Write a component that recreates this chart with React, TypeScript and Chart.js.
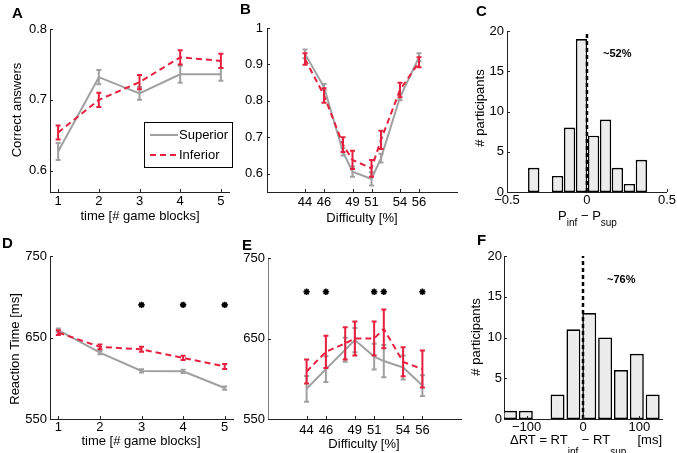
import React, { useEffect, useRef } from 'react';
import { Chart, registerables } from 'chart.js';

Chart.register(...registerables);

const W = 677;
const H = 453;
const FONT = '"Liberation Sans", Arial, Helvetica, sans-serif';
const GRAY = 'rgb(160,160,160)';
const RED = 'rgb(230,32,62)';
const AXIS = '#222';

// ---------- Panel A: correct answers over time ----------
const timeBlocks = [1, 2, 3, 4, 5];
const timeTicks = [1, 2, 3, 4, 5];
const accSuperior = [0.627, 0.732, 0.709, 0.736, 0.736];
const accSuperiorErr = [0.012, 0.01, 0.009, 0.012, 0.009];
const accInferior = [0.654, 0.7, 0.725, 0.76, 0.755];
const accInferiorErr = [0.01, 0.01, 0.01, 0.01, 0.01];
const accTicks = [0.6, 0.7, 0.8];

// ---------- Panel B: correct answers by difficulty ----------
const difficulty = [44, 46, 48, 49, 51, 52, 54, 56];
const difficultyTicks = [44, 46, 49, 51, 54, 56];
const diffAccSuperior = [0.929, 0.838, 0.66, 0.606, 0.586, 0.643, 0.81, 0.92];
const diffAccSuperiorErr = [0.012, 0.008, 0.01, 0.014, 0.018, 0.012, 0.008, 0.011];
const diffAccInferior = [0.915, 0.815, 0.68, 0.638, 0.615, 0.693, 0.83, 0.906];
const diffAccInferiorErr = [0.016, 0.02, 0.02, 0.025, 0.023, 0.025, 0.02, 0.014];
const diffAccTicks = [0.6, 0.7, 0.8, 0.9, 1];

// ---------- Panel C: histogram of P_inf - P_sup ----------
const pDiffBins = [-0.333, -0.258, -0.184, -0.109, -0.034, 0.041, 0.116, 0.19, 0.265, 0.34];
const pDiffCounts = [3, 0, 2, 8, 19, 7, 9, 3, 1, 4];
const pDiffTicks = [-0.5, 0, 0.5];
const countTicks = [0, 5, 10, 15, 20];
const pDiffShare = '~52%';

// ---------- Panel D: reaction time over time ----------
const rtSuperior = [659, 631.5, 609, 608.5, 588];
const rtSuperiorErr = [2, 2, 2, 2, 2];
const rtInferior = [656, 638.5, 635.5, 625, 614.5];
const rtInferiorErr = [3, 3, 3, 2.5, 3];
const rtTicks = [550, 650, 750];
const rtSigBlocks = [3, 4, 5];
const rtSigLevel = [690, 690, 690];

// ---------- Panel E: reaction time by difficulty ----------
const diffRtSuperior = [587.5, 612, 636, 648, 627.5, 622, 614, 591.5];
const diffRtSuperiorErr = [16, 16, 15, 15, 16, 20, 15, 13];
const diffRtInferior = [609, 633.5, 644, 650, 650, 662, 621, 612];
const diffRtInferiorErr = [15, 20, 20, 21, 21, 24, 18, 23];
const diffSigLevels = [44, 46, 51, 52, 56];
const diffSigY = [708, 708, 708, 708, 708];

// ---------- Panel F: histogram of RT_inf - RT_sup ----------
const rtDiffBins = [-129.4, -101.3, -73.2, -45.1, -17, 11.1, 39.2, 67.3, 95.4, 123.5];
const rtDiffCounts = [1, 1, 0, 3, 11, 13, 10, 6, 8, 3];
const rtDiffTicks = [-100, 0, 100];
const rtDiffShare = '~76%';

// ---------------------------------------------------------
type Area = { l: number; t: number; r: number; b: number };
type TextItem = {
  text: string; x: number; y: number; size?: number; bold?: boolean;
  rotate?: boolean; align?: CanvasTextAlign; baseline?: CanvasTextBaseline;
};
type RichItem = { parts: { t: string; sub?: boolean }[]; x: number; y: number; align: 'left' | 'center'; subDy: number };
type Decor = { texts: TextItem[]; rich?: RichItem[]; legend?: { x: number; y: number; w: number; h: number } };

const fmtTick = (v: number) => String(v).replace('-', '\u2212');
const font = (size: number, bold = false) => `${bold ? 'bold ' : ''}${size}px ${FONT}`;

function decorPlugin(d: Decor) {
  return {
    id: 'decor',
    afterDatasetDraw(chart: any, args: any) {
      const ds = chart.data.datasets[args.index];
      const errs: number[] | undefined = ds.errors;
      if (!errs) return;
      const ys = chart.scales.y;
      const ctx = chart.ctx;
      ctx.save();
      ctx.strokeStyle = ds.borderColor;
      ctx.lineWidth = 2;
      ctx.setLineDash([]);
      args.meta.data.forEach((pt: any, i: number) => {
        const v = ds.data[i].y;
        const e = errs[i];
        const x = pt.x;
        const y1 = ys.getPixelForValue(v + e);
        const y2 = ys.getPixelForValue(v - e);
        ctx.beginPath();
        ctx.moveTo(x, y1); ctx.lineTo(x, y2);
        ctx.moveTo(x - 2.5, y1); ctx.lineTo(x + 2.5, y1);
        ctx.moveTo(x - 2.5, y2); ctx.lineTo(x + 2.5, y2);
        ctx.stroke();
      });
      ctx.restore();
    },
    afterDraw(chart: any) {
      const ctx: CanvasRenderingContext2D = chart.ctx;
      const a = chart.chartArea;
      const xs = chart.scales.x;
      const ys = chart.scales.y;
      ctx.save();
      // inward tick marks
      ctx.strokeStyle = AXIS;
      ctx.lineWidth = 1;
      ctx.setLineDash([]);
      ctx.beginPath();
      xs.ticks.forEach((t: any) => {
        const px = Math.round(xs.getPixelForValue(t.value)) + 0.5;
        ctx.moveTo(px, a.bottom); ctx.lineTo(px, a.bottom - 3);
      });
      ys.ticks.forEach((t: any) => {
        const py = Math.round(ys.getPixelForValue(t.value)) + 0.5;
        ctx.moveTo(a.left, py); ctx.lineTo(a.left + 3, py);
      });
      ctx.stroke();
      // texts
      ctx.fillStyle = '#000';
      d.texts.forEach((t) => {
        ctx.font = font(t.size ?? 13, t.bold);
        ctx.textAlign = t.align ?? 'center';
        ctx.textBaseline = t.baseline ?? 'middle';
        if (t.rotate) {
          ctx.save();
          ctx.translate(t.x, t.y);
          ctx.rotate(-Math.PI / 2);
          ctx.fillText(t.text, 0, 0);
          ctx.restore();
        } else {
          ctx.fillText(t.text, t.x, t.y);
        }
      });
      // rich texts with subscripts
      (d.rich ?? []).forEach((r) => {
        ctx.textAlign = 'left';
        ctx.textBaseline = 'alphabetic';
        const widths = r.parts.map((p) => { ctx.font = font(p.sub ? 10 : 13); return ctx.measureText(p.t).width; });
        const total = widths.reduce((s, w) => s + w, 0);
        let x = r.align === 'center' ? r.x - total / 2 : r.x;
        r.parts.forEach((p, i) => {
          ctx.font = font(p.sub ? 10 : 13);
          ctx.fillText(p.t, x, r.y + (p.sub ? r.subDy : 0));
          x += widths[i];
        });
      });
      // legend box
      if (d.legend) {
        const L = d.legend;
        ctx.fillStyle = '#fff';
        ctx.fillRect(L.x, L.y, L.w, L.h);
        ctx.strokeStyle = '#000';
        ctx.lineWidth = 1;
        ctx.strokeRect(L.x + 0.5, L.y + 0.5, L.w, L.h);
        const items = chart.data.datasets.filter((ds: any) => ds.errors);
        items.forEach((ds: any, i: number) => {
          const y = L.y + 13 + i * 20;
          ctx.strokeStyle = ds.borderColor;
          ctx.lineWidth = 2;
          ctx.setLineDash(ds.borderDash ?? []);
          ctx.beginPath();
          ctx.moveTo(L.x + 6, y); ctx.lineTo(L.x + 34, y);
          ctx.stroke();
          ctx.setLineDash([]);
          ctx.fillStyle = '#000';
          ctx.font = font(13);
          ctx.textAlign = 'left';
          ctx.textBaseline = 'middle';
          ctx.fillText(ds.label, L.x + 35, y);
        });
      }
      ctx.restore();
    },
  };
}

function baseOptions(area: Area, xr: number[], yr: number[], xTicks: number[], yTicks: number[], xPad: number, yPad: number, yBorder = AXIS) {
  const tickFont = { family: FONT, size: 13 };
  return {
    responsive: false,
    animation: false,
    devicePixelRatio: 1,
    events: [],
    layout: { padding: { left: 0, top: area.t, right: W - area.r, bottom: 0 } },
    plugins: { legend: { display: false }, tooltip: { enabled: false } },
    scales: {
      x: {
        type: 'linear', min: xr[0], max: xr[1], offset: false,
        afterFit: (s: any) => { s.height = H - area.b; },
        afterBuildTicks: (s: any) => { s.ticks = xTicks.map((v) => ({ value: v })); },
        grid: { display: false, drawTicks: false, offset: false },
        border: { display: true, color: AXIS, width: 1 },
        ticks: { padding: xPad, color: '#000', font: tickFont, maxRotation: 0, autoSkip: false, callback: (v: number) => fmtTick(v) },
      },
      y: {
        type: 'linear', min: yr[0], max: yr[1],
        afterFit: (s: any) => { s.width = area.l; },
        afterBuildTicks: (s: any) => { s.ticks = yTicks.map((v) => ({ value: v })); },
        grid: { display: false, drawTicks: false },
        border: { display: true, color: yBorder, width: 1 },
        ticks: { padding: yPad, color: '#000', font: tickFont, autoSkip: false, callback: (v: number) => fmtTick(v) },
      },
    },
  };
}

function series(label: string, xs: number[], ys: number[], errs: number[], color: string, dash: number[], order: number) {
  return {
    type: 'line', label, order,
    data: xs.map((x, i) => ({ x, y: ys[i] })),
    errors: errs,
    borderColor: color, backgroundColor: color, borderWidth: 2, borderDash: dash,
    pointRadius: 0, tension: 0, fill: false,
  };
}

function stars(xs: number[], ys: number[]) {
  return {
    type: 'scatter', order: -1,
    data: xs.map((x, i) => ({ x, y: ys[i] })),
    pointStyle: 'star', pointRadius: 3.2, borderWidth: 1.6,
    borderColor: '#000', backgroundColor: '#000',
  };
}

function histo(bins: number[], counts: number[], pct: number) {
  return {
    type: 'bar', order: 1,
    data: bins.map((x, i) => ({ x, y: counts[i] })),
    backgroundColor: '#ececec', borderColor: '#000', borderWidth: 1.6, borderSkipped: false,
    categoryPercentage: 1, barPercentage: pct,
  };
}

function zeroLine(top: number) {
  return {
    type: 'line', order: 0,
    data: [{ x: 0, y: 0 }, { x: 0, y: top }],
    borderColor: '#000', borderWidth: 2.5, borderDash: [4, 3], pointRadius: 0,
  };
}

const builders: ((c: HTMLCanvasElement) => Chart)[] = [
  // A
  (c) => {
    const area = { l: 50, t: 29, r: 229, b: 192 };
    return new Chart(c, {
      type: 'line',
      data: { datasets: [
        series('Superior', timeBlocks, accSuperior, accSuperiorErr, GRAY, [], 1),
        series('Inferior', timeBlocks, accInferior, accInferiorErr, RED, [6, 4], 0),
      ] } as any,
      options: baseOptions(area, [0.8, 5.2], [0.57, 0.8], timeTicks, accTicks, 2, 3) as any,
      plugins: [decorPlugin({
        texts: [
          { text: 'A', x: 12, y: 18, size: 15, bold: true, align: 'left', baseline: 'alphabetic' },
          { text: 'Correct answers', x: 17, y: 110, rotate: true },
          { text: 'time [# game blocks]', x: 140, y: 216 },
        ],
        legend: { x: 144, y: 122, w: 88, h: 45 },
      })],
    });
  },
  // B
  (c) => {
    const area = { l: 267, t: 28, r: 457, b: 192 };
    return new Chart(c, {
      type: 'line',
      data: { datasets: [
        series('Superior', difficulty, diffAccSuperior, diffAccSuperiorErr, GRAY, [], 1),
        series('Inferior', difficulty, diffAccInferior, diffAccInferiorErr, RED, [6, 4], 0),
      ] } as any,
      options: baseOptions(area, [40, 60], [0.55, 1], difficultyTicks, diffAccTicks, 3, 4) as any,
      plugins: [decorPlugin({
        texts: [
          { text: 'B', x: 240, y: 14, size: 15, bold: true, align: 'left', baseline: 'alphabetic' },
          { text: 'Difficulty [%]', x: 362, y: 218 },
        ],
      })],
    });
  },
  // C
  (c) => {
    const area = { l: 507, t: 31, r: 668, b: 192 };
    return new Chart(c, {
      type: 'bar',
      data: { datasets: [histo(pDiffBins, pDiffCounts, 0.96), zeroLine(20)] } as any,
      options: baseOptions(area, [-0.5, 0.5], [0, 20], pDiffTicks, countTicks, 1, 3) as any,
      plugins: [decorPlugin({
        texts: [
          { text: 'C', x: 476, y: 16, size: 15, bold: true, align: 'left', baseline: 'alphabetic' },
          { text: '# participants', x: 480, y: 108, rotate: true },
          { text: pDiffShare, x: 603, y: 57, size: 11, bold: true, align: 'left', baseline: 'alphabetic' },
        ],
        rich: [{ parts: [{ t: 'P' }, { t: 'inf', sub: true }, { t: ' \u2212 P' }, { t: 'sup', sub: true }], x: 587.5, y: 220, align: 'center', subDy: 5.5 }],
      })],
    });
  },
  // D
  (c) => {
    const area = { l: 50, t: 256, r: 233, b: 419 };
    return new Chart(c, {
      type: 'line',
      data: { datasets: [
        series('Superior', timeBlocks, rtSuperior, rtSuperiorErr, GRAY, [], 1),
        series('Inferior', timeBlocks, rtInferior, rtInferiorErr, RED, [6, 4], 0),
        stars(rtSigBlocks, rtSigLevel),
      ] } as any,
      options: baseOptions(area, [0.8, 5.2], [550, 750], timeTicks, rtTicks, 1, 3) as any,
      plugins: [decorPlugin({
        texts: [
          { text: 'D', x: 2, y: 248, size: 15, bold: true, align: 'left', baseline: 'alphabetic' },
          { text: 'Reaction Time [ms]', x: 15, y: 349, rotate: true },
          { text: 'time [# game blocks]', x: 141, y: 441 },
        ],
      })],
    });
  },
  // E
  (c) => {
    const area = { l: 268, t: 258, r: 461, b: 419 };
    return new Chart(c, {
      type: 'line',
      data: { datasets: [
        series('Superior', difficulty, diffRtSuperior, diffRtSuperiorErr, GRAY, [], 1),
        series('Inferior', difficulty, diffRtInferior, diffRtInferiorErr, RED, [6, 4], 0),
        stars(diffSigLevels, diffSigY),
      ] } as any,
      options: baseOptions(area, [40, 60], [550, 750], difficultyTicks, rtTicks, 4, 3, '#808080') as any,
      plugins: [decorPlugin({
        texts: [
          { text: 'E', x: 242, y: 250, size: 15, bold: true, align: 'left', baseline: 'alphabetic' },
          { text: 'Difficulty [%]', x: 364, y: 444 },
        ],
      })],
    });
  },
  // F
  (c) => {
    const area = { l: 504, t: 256, r: 662, b: 419 };
    return new Chart(c, {
      type: 'bar',
      data: { datasets: [histo(rtDiffBins, rtDiffCounts, 0.88), zeroLine(20)] } as any,
      options: baseOptions(area, [-140, 140], [0, 20], rtDiffTicks, countTicks, 1, 2) as any,
      plugins: [decorPlugin({
        texts: [
          { text: 'F', x: 477, y: 245, size: 15, bold: true, align: 'left', baseline: 'alphabetic' },
          { text: '# participants', x: 476, y: 337, rotate: true },
          { text: rtDiffShare, x: 607, y: 283, size: 11, bold: true, align: 'left', baseline: 'alphabetic' },
          { text: '[ms]', x: 662, y: 444, align: 'right', baseline: 'alphabetic' },
        ],
        rich: [{ parts: [{ t: '\u0394RT = RT' }, { t: 'inf', sub: true }, { t: ' \u2212 RT' }, { t: 'sup', sub: true }], x: 510, y: 444, align: 'left', subDy: 11 }],
      })],
    });
  },
];

function PanelCanvas({ build }: { build: (c: HTMLCanvasElement) => Chart }) {
  const ref = useRef<HTMLCanvasElement>(null);
  useEffect(() => {
    const chart = build(ref.current as HTMLCanvasElement);
    return () => chart.destroy();
  }, [build]);
  return (
    <canvas
      ref={ref}
      width={W}
      height={H}
      style={{ position: 'absolute', left: 0, top: 0, width: W, height: H }}
    />
  );
}

export default function App() {
  return (
    <div style={{ position: 'absolute', left: 0, top: 0, width: W, height: H, background: '#fff', overflow: 'hidden' }}>
      {builders.map((b, i) => (
        <PanelCanvas key={i} build={b} />
      ))}
    </div>
  );
}
